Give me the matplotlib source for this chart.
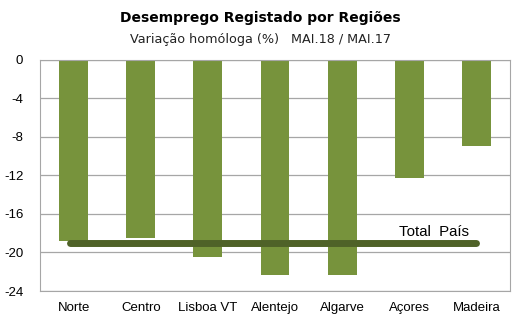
import matplotlib.pyplot as plt

regioes = ['Norte', 'Centro', 'Lisboa VT', 'Alentejo', 'Algarve', 'Açores', 'Madeira']
variacao = [-18.8, -18.5, -20.5, -22.3, -22.3, -12.3, -8.9]
total_pais = -19.0
yticks = [0, -4, -8, -12, -16, -20, -24]

fig = plt.figure(figsize=(5.21, 3.25), dpi=100)
ax = fig.add_axes([40/521, 1 - 291/325, 470/521, 231/325])

x = range(len(regioes))
ax.bar(x, variacao, width=0.43, color='#77933C', zorder=2)

# linha do total
ax.plot([-0.05, len(regioes) - 1], [total_pais, total_pais], color='#4F6228',
        lw=5, solid_capstyle='round', zorder=3)
ax.text(4.84, total_pais + 0.45, 'Total  País', fontsize=10.8, ha='left', va='bottom',
        family='Liberation Sans')

ax.set_xlim(-0.5, len(regioes) - 0.5)
ax.set_ylim(-24, 0)
ax.set_yticks(yticks)
ax.set_yticklabels([str(v) for v in yticks], family='Liberation Sans', fontsize=9.5)
ax.set_xticks(list(x))
ax.set_xticklabels(regioes, family='Liberation Sans', fontsize=9.5)
ax.tick_params(axis='x', length=0, pad=8)
ax.tick_params(axis='y', length=0, pad=12)
ax.grid(axis='y', color='#A6A6A6', lw=0.9, zorder=0)
for s in ax.spines.values():
    s.set_color('#A6A6A6')

fig.text(0.5, 1 - 18/325, 'Desemprego Registado por Regiões', ha='center', va='center',
         fontsize=10, fontweight='bold', family=['DejaVu Sans Condensed', 'DejaVu Sans'])
fig.text(0.5, 1 - 40/325, 'Variação homóloga (%)   MAI.18 / MAI.17', ha='center', va='center',
         fontsize=9.2, family=['DejaVu Sans Condensed', 'DejaVu Sans'], color='#222222')

fig.savefig('out.png', dpi=100)
